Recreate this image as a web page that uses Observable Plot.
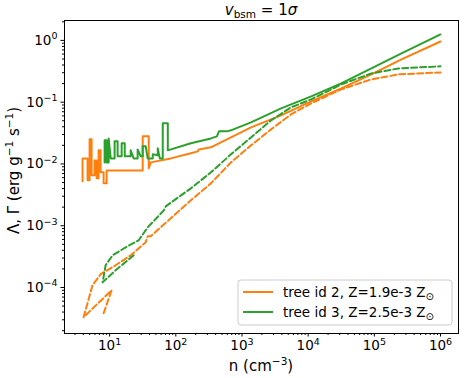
<!DOCTYPE html>
<html>
<head>
<meta charset="utf-8">
<script src="https://cdn.jsdelivr.net/npm/d3@7"></script>
<script src="https://cdn.jsdelivr.net/npm/@observablehq/plot@0.6"></script>
<style>
  html, body { margin: 0; padding: 0; background: #fff; }
  svg { font-family: "DejaVu Sans", sans-serif; }
</style>
</head>
<body>
<div id="chart"></div>
<script>
// ---------- data ----------
const seriesLabels = ["tree id 2, Z=1.9e-3 Z", "tree id 3, Z=2.5e-3 Z"];
const seriesColors = ["#ff7f0e", "#2ca02c"];

// tree id 2 — solid curve
const tree2SolidN = [3.90,3.90,4.64,4.64,4.98,4.98,5.34,5.34,5.93,5.93,6.36,6.36,6.81,6.81,7.31,7.31,8.11,8.11,9.01,9.01,31.6,31.6,39.0,39.0,41.8,84.0,169,215,223,339,681,1370,3900,11100,31600,90200,257000,1e6];
const tree2SolidV = [0.00523,0.0123,0.0123,0.00543,0.00543,0.0250,0.0250,0.00654,0.00654,0.0114,0.0114,0.00585,0.00585,0.0166,0.0166,0.00731,0.00731,0.00485,0.00485,0.00787,0.00787,0.0280,0.0280,0.00849,0.0106,0.0123,0.0149,0.0160,0.0172,0.0186,0.0269,0.0391,0.0611,0.103,0.167,0.282,0.493,0.96];

// tree id 2 — dashed curve
const tree2DashN = [8.11,10.7,4.04,5.52,7.31,12.3,20.8,35.1,37.6,41.8,84.0,169,339,681,1370,2750,5520,11100,31600,90200,231000,1e6];
const tree2DashV = [0.0000383,0.0000901,0.0000330,0.000109,0.000164,0.000229,0.000332,0.000539,0.000673,0.000673,0.00132,0.00258,0.00485,0.0106,0.0200,0.0363,0.0635,0.0957,0.161,0.234,0.282,0.303];

// tree id 3 — solid curve
const tree3SolidN = [8.40,8.40,9.01,9.01,9.66,9.66,10.4,11.9,11.9,13.2,13.2,15.2,15.2,16.9,16.9,20.8,20.8,23.1,26.5,26.5,29.5,31.6,31.6,35.1,37.6,44.8,44.8,53.4,53.4,57.3,63.5,63.5,75.7,75.7,169,339,418,449,593,681,1370,3900,11100,31600,90200,257000,1e6];
const tree3SolidV = [0.0106,0.0241,0.0241,0.0106,0.0106,0.0259,0.0123,0.0123,0.0232,0.0232,0.0133,0.0133,0.0216,0.0216,0.0133,0.0133,0.0166,0.0123,0.0123,0.0172,0.0133,0.0133,0.0193,0.0193,0.0123,0.0123,0.0143,0.0138,0.0179,0.0123,0.0123,0.0454,0.0454,0.0166,0.0216,0.0259,0.0280,0.0337,0.0337,0.0350,0.0471,0.0794,0.124,0.201,0.352,0.616,1.25];

// tree id 3 — dashed curve
const tree3DashN = [23.1,12.3,7.83,8.70,11.1,17.5,27.5,37.6,65.8,70.5,169,339,681,1370,2750,5520,11100,31600,90200,231000,1e6];
const tree3DashV = [0.000332,0.000190,0.000121,0.000229,0.000332,0.000447,0.000581,0.000942,0.00177,0.00206,0.00403,0.00731,0.0143,0.0269,0.0508,0.0824,0.111,0.194,0.292,0.352,0.380];

// axes
const xMajorTicks = [10, 100, 1000, 10000, 100000, 1000000];
const yMajorTicks = [1e-4, 1e-3, 1e-2, 1e-1, 1];
const xDomain = [2.08, 1.87e6];
const yDomain = [1.8e-5, 2.1];

// ---------- build table ----------
function rowsOf(nArr, vArr, tree) {
  return nArr.map((n, i) => ({ n, v: vArr[i], tree }));
}
const t2Solid = rowsOf(tree2SolidN, tree2SolidV, seriesLabels[0]);
const t2Dash  = rowsOf(tree2DashN,  tree2DashV,  seriesLabels[0]);
const t3Solid = rowsOf(tree3SolidN, tree3SolidV, seriesLabels[1]);
const t3Dash  = rowsOf(tree3DashN,  tree3DashV,  seriesLabels[1]);

function minorTicks(domain) {
  const out = [];
  const e0 = Math.floor(Math.log10(domain[0])), e1 = Math.ceil(Math.log10(domain[1]));
  for (let e = e0; e <= e1; e++) for (let m = 2; m <= 9; m++) {
    const t = m * Math.pow(10, e);
    if (t >= domain[0] && t <= domain[1]) out.push(t);
  }
  return out;
}
const fmtPow = d => "10^" + String(Math.round(Math.log10(d))).replace("-", "−");

const W = 464, H = 378;
const M = { top: 20, right: 6, bottom: 45, left: 64 };
const tickFont = 13.5;

const plot = Plot.plot({
  width: W, height: H,
  marginTop: M.top, marginRight: M.right, marginBottom: M.bottom, marginLeft: M.left,
  style: { fontFamily: "DejaVu Sans, sans-serif", fontSize: tickFont + "px", color: "black", background: "white" },
  x: { type: "log", domain: xDomain },
  y: { type: "log", domain: yDomain },
  color: { domain: seriesLabels, range: seriesColors },
  marks: [
    Plot.axisX(minorTicks(xDomain), { tickSize: 2, tickFormat: () => "", label: null }),
    Plot.axisX(xMajorTicks, { tickSize: 3.5, tickPadding: 3.5, tickFormat: fmtPow, label: null, fontSize: tickFont }),
    Plot.axisY(minorTicks(yDomain), { tickSize: 2, tickFormat: () => "", label: null }),
    Plot.axisY(yMajorTicks, { tickSize: 3.5, tickPadding: 3.5, tickFormat: fmtPow, label: null, fontSize: tickFont }),
    Plot.line(t2Solid, { x: "n", y: "v", stroke: "tree", strokeWidth: 2 }),
    Plot.line(t2Dash,  { x: "n", y: "v", stroke: "tree", strokeWidth: 2, strokeDasharray: "6,3" }),
    Plot.line(t3Solid, { x: "n", y: "v", stroke: "tree", strokeWidth: 2 }),
    Plot.line(t3Dash,  { x: "n", y: "v", stroke: "tree", strokeWidth: 2, strokeDasharray: "6,3" }),
    Plot.frame({ stroke: "black", strokeWidth: 1 })
  ]
});
document.getElementById("chart").appendChild(plot);

const svg = d3.select(plot);

// ---------- tick labels as 10 with superscript exponent ----------
svg.selectAll("text").each(function () {
  const s = this.textContent;
  if (!/^10\^/.test(s)) return;
  const exp = s.slice(3);
  const el = d3.select(this);
  el.text(null);
  el.append("tspan").text("10");
  el.append("tspan").attr("font-size", 9.5).attr("dy", -5.5).text(exp);
});

// ---------- title, axis labels, legend ----------
const cx = M.left + (W - M.left - M.right) / 2;
const cy = M.top + (H - M.top - M.bottom) / 2;

const title = svg.append("text").attr("x", cx).attr("y", 15).attr("text-anchor", "middle")
  .attr("font-size", 15).attr("fill", "black");
title.append("tspan").attr("font-style", "italic").text("v");
title.append("tspan").attr("font-size", 10.5).attr("dy", 3).text("bsm");
title.append("tspan").attr("dy", -3).text(" = 1");
title.append("tspan").attr("font-style", "italic").text("σ");

const xl = svg.append("text").attr("x", cx).attr("y", 371).attr("text-anchor", "middle")
  .attr("font-size", 15).attr("fill", "black");
xl.append("tspan").text("n (cm");
xl.append("tspan").attr("font-size", 10.5).attr("dy", -6).text("−3");
xl.append("tspan").attr("dy", 6).text(")");

const yl = svg.append("text").attr("transform", `translate(19,${cy - 6}) rotate(-90)`)
  .attr("text-anchor", "middle").attr("font-size", 15).attr("fill", "black");
yl.append("tspan").text("Λ, Γ (erg g");
yl.append("tspan").attr("font-size", 10.5).attr("dy", -6).text("−1");
yl.append("tspan").attr("dy", 6).text(" s");
yl.append("tspan").attr("font-size", 10.5).attr("dy", -6).text("−1");
yl.append("tspan").attr("dy", 6).text(")");

const lg = svg.append("g");
lg.append("rect").attr("x", 238).attr("y", 280).attr("width", 214).attr("height", 45).attr("rx", 3)
  .attr("fill", "white").attr("fill-opacity", 0.8).attr("stroke", "#cccccc");
seriesLabels.forEach((s, i) => {
  const y = 292 + i * 20;
  lg.append("line").attr("x1", 243).attr("x2", 273).attr("y1", y).attr("y2", y)
    .attr("stroke", seriesColors[i]).attr("stroke-width", 2);
  const tx = lg.append("text").attr("x", 283).attr("y", y + 5).attr("text-anchor", "start")
    .attr("font-size", 13.5).attr("fill", "black");
  tx.append("tspan").text(s);
  tx.append("tspan").attr("font-size", 10).attr("dy", 3).text("⊙");
});
</script>
</body>
</html>
